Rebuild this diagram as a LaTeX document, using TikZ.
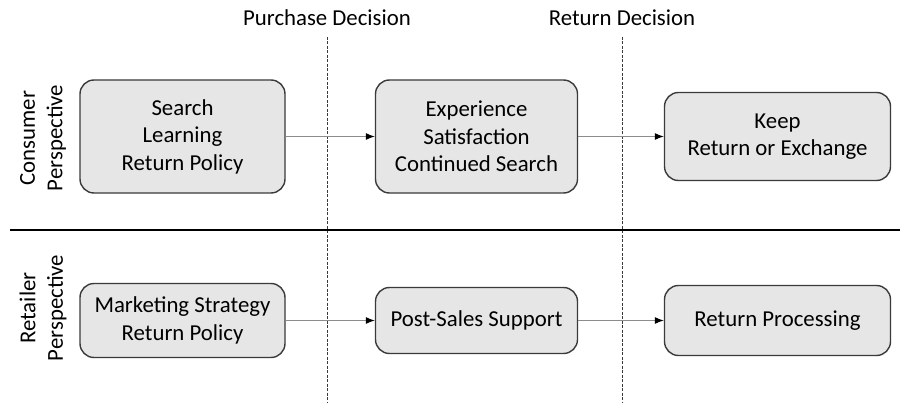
\documentclass[tikz,border=0pt]{standalone}
\usepackage{fontspec}
\setmainfont{Carlito}
\usepackage{tikz}
\usetikzlibrary{shapes.geometric, arrows.meta}
\definecolor{boxfill}{HTML}{E6E6E6}
\definecolor{boxline}{HTML}{3A3A3A}
\definecolor{linkgray}{HTML}{8C8C8C}
\tikzstyle{stage} = [rectangle, rounded corners=14pt, align=center, inner sep=0pt, fill=boxfill, draw=boxline, line width=1.4pt]
\tikzstyle{arrow} = [draw=linkgray, line width=1pt, -{Latex[length=9pt,width=7pt,black]}]
\tikzstyle{divider} = [draw=boxline, line width=1pt, dash pattern=on 3pt off 1.5pt]
\tikzstyle{side} = [rotate=90, align=center, inner sep=0pt]

\begin{document}
\begin{tikzpicture}[x=1pt, y=1pt, node distance=294pt]
        \fontsize{22.8}{27.5}\selectfont
        \useasboundingbox (0,0) rectangle (900,402);
        % consumer row
        \node (search) [stage, minimum width=205pt, minimum height=113pt] at (182.5,265.5) {Search\\Learning\\Return Policy};
        \node (experience) [stage, minimum width=202pt, minimum height=113pt, right of=search] {Experience\\Satisfaction\\Continued Search};
        \node (keep) [stage, minimum width=226pt, minimum height=88pt, node distance=301pt, right of=experience] {Keep\\Return or Exchange};
        % retailer row
        \node (marketing) [stage, minimum width=205pt, minimum height=74pt, node distance=184pt, below of=search] {Marketing Strategy\\Return Policy};
        \node (support) [stage, minimum width=202pt, minimum height=66pt, right of=marketing] {Post-Sales Support};
        \node (processing) [stage, minimum width=226pt, minimum height=70pt, node distance=301pt, right of=support] {Return Processing};
        % perspectives
        \node (consumer) [side] at (43,264) {Consumer\\Perspective};
        \node (retailer) [side] at (43,94) {Retailer\\Perspective};
        % decisions
        \node (purchase) at (327,384) {Purchase Decision};
        \node (return) at (622,384) {Return Decision};
        \coordinate (purchasetop) at (327,365);
        \coordinate (purchasebot) at (327,0);
        \coordinate (returntop) at (622,365);
        \coordinate (returnbot) at (622,0);
        \coordinate (splitleft) at (10,172);
        \coordinate (splitright) at (900,172);

        \draw [divider] (purchasetop) -- (purchasebot);
        \draw [divider] (returntop) -- (returnbot);
        \draw [line width=2pt] (splitleft) -- (splitright);

        \draw [arrow] (search) -- (experience);
        \draw [arrow] (experience) -- (keep);
        \draw [arrow] (marketing) -- (support);
        \draw [arrow] (support) -- (processing);
    \end{tikzpicture}
\end{document}
